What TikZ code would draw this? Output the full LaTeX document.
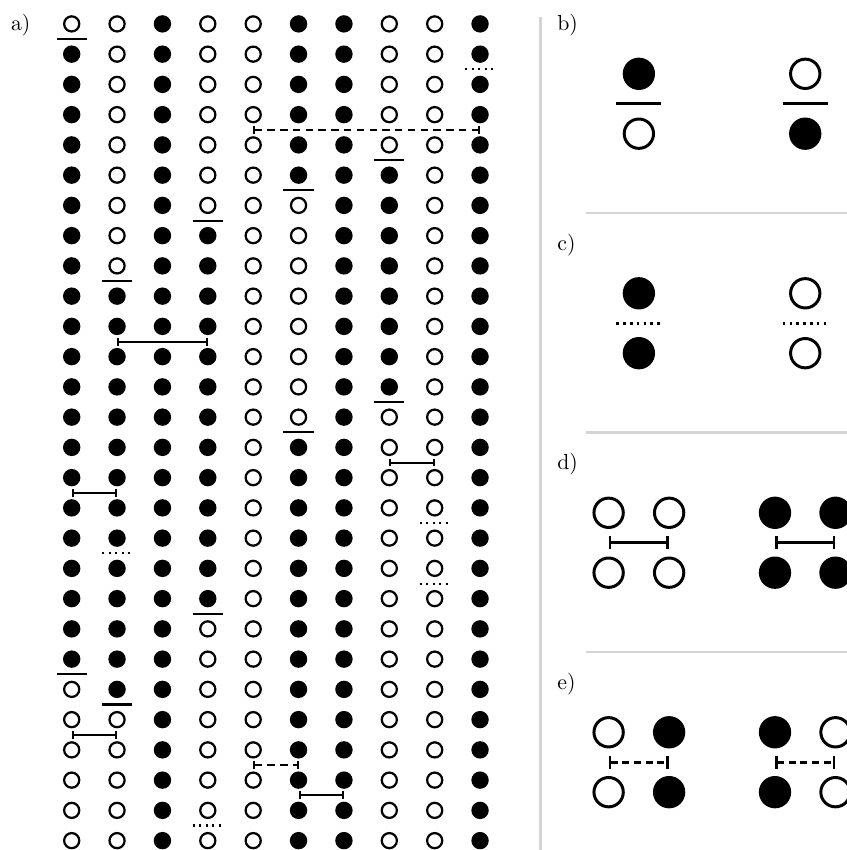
\documentclass[tikz,border=0pt]{standalone}
\usepackage{tikz}
\usetikzlibrary{arrows.meta,calc}
\colorlet{spin0}{white}
\colorlet{spin1}{black}
\colorlet{divgray}{black!17}

\begin{document}
\begin{tikzpicture}[
        every node/.style={inner sep=0pt},
        site/.style={circle, draw=black, line width=2.1pt, minimum size=0.5cm},
        bigsite/.style={circle, draw=black, line width=2.8pt, minimum size=0.97cm},
        flipbar/.style={line width=1.9pt},
        keepbar/.style={line width=1.9pt, dash pattern=on 1.9pt off 4.3pt},
        pairbar/.style={line width=1.9pt, {Bar[width=7.5pt]}-{Bar[width=7.5pt]}},
        mixbar/.style={pairbar, dash pattern=on 7pt off 5pt},
        Lflipbar/.style={line width=2.5pt},
        Lkeepbar/.style={line width=2.5pt, dash pattern=on 2.5pt off 3.9pt},
        Lpairbar/.style={line width=2.6pt, {Bar[width=12pt]}-{Bar[width=12pt]}},
        Lmixbar/.style={Lpairbar, dash pattern=on 6.5pt off 4.5pt},
        divider/.style={draw=divgray, line width=2.4pt},
        sepline/.style={draw=divgray, line width=2pt},
        lbl/.style={font=\fontsize{10}{12}\selectfont, scale=2.05, anchor=base west}
    ]
    \useasboundingbox (-0.87,-28.31) rectangle (27.13,-0.21);

    % ================= (a) spin configurations =========================
    \node[lbl] (lab-a) at (-0.52,-1.23) {a)};
    \foreach \r/\row in {
            1/{0,0,1,0,0,1,1,0,0,1},  2/{1,0,1,0,0,1,1,0,0,1},
            3/{1,0,1,0,0,1,1,0,0,1},  4/{1,0,1,0,0,1,1,0,0,1},
            5/{1,0,1,0,0,1,1,0,0,1},  6/{1,0,1,0,0,1,1,1,0,1},
            7/{1,0,1,0,0,0,1,1,0,1},  8/{1,0,1,1,0,0,1,1,0,1},
            9/{1,0,1,1,0,0,1,1,0,1}, 10/{1,1,1,1,0,0,1,1,0,1},
            11/{1,1,1,1,0,0,1,1,0,1}, 12/{1,1,1,1,0,0,1,1,0,1},
            13/{1,1,1,1,0,0,1,1,0,1}, 14/{1,1,1,1,0,0,1,0,0,1},
            15/{1,1,1,1,0,1,1,0,0,1}, 16/{1,1,1,1,0,1,1,0,0,1},
            17/{1,1,1,1,0,1,1,0,0,1}, 18/{1,1,1,1,0,1,1,0,0,1},
            19/{1,1,1,1,0,1,1,0,0,1}, 20/{1,1,1,1,0,1,1,0,0,1},
            21/{1,1,1,0,0,1,1,0,0,1}, 22/{1,1,1,0,0,1,1,0,0,1},
            23/{0,1,1,0,0,1,1,0,0,1}, 24/{0,0,1,0,0,1,1,0,0,1},
            25/{0,0,1,0,0,1,1,0,0,1}, 26/{0,0,1,0,0,1,1,0,0,1},
            27/{0,0,1,0,0,1,1,0,0,1}, 28/{0,0,1,0,0,1,1,0,0,1}}
    \foreach \v [count=\c] in \row
    \node[site, fill=spin\v] (n-\r-\c) at (1.5*\c,-\r) {};

    % spin flipped between row r and r+1
    \foreach \r/\c in {1/1, 5/8, 6/6, 7/4, 9/2, 13/8, 14/6, 20/4, 22/1, 23/2}{
        \pgfmathtruncatemacro\rr{\r+1}
        \draw[flipbar] ($(n-\r-\c)!0.5!(n-\rr-\c)+(-0.5,0)$)
        -- ($(n-\r-\c)!0.5!(n-\rr-\c)+(0.5,0)$);
    }
    % spin kept
    \foreach \r/\c in {2/10, 17/9, 18/2, 19/9, 27/4}{
        \pgfmathtruncatemacro\rr{\r+1}
        \draw[keepbar] ($(n-\r-\c)!0.5!(n-\rr-\c)+(-0.5,0)$)
        -- ($(n-\r-\c)!0.5!(n-\rr-\c)+(0.5,0)$);
    }
    % equal pairs
    \foreach \r/\a/\b in {11/2/4, 15/8/9, 16/1/2, 24/1/2, 26/6/7}{
        \pgfmathtruncatemacro\rr{\r+1}
        \draw[pairbar] ($(n-\r-\a)!0.5!(n-\rr-\a)$) -- ($(n-\r-\b)!0.5!(n-\rr-\b)$);
    }
    % opposite pairs
    \foreach \r/\a/\b in {4/5/10, 25/5/6}{
        \pgfmathtruncatemacro\rr{\r+1}
        \draw[mixbar] ($(n-\r-\a)!0.5!(n-\rr-\a)$) -- ($(n-\r-\b)!0.5!(n-\rr-\b)$);
    }

    \draw[divider] (17,-0.76) -- (17,-28.5);

    % ================= (b) flip =========================
    \begin{scope}[shift={(17,0)}]
        \node[lbl] (lab-b) at (0.54,-1.23) {b)};
        \node[bigsite, fill=black] (b-1t) at (3.25,-2.65) {};
        \node[bigsite] (b-1b) at (3.25,-4.63) {};
        \node[bigsite] (b-2t) at (8.75,-2.65) {};
        \node[bigsite, fill=black] (b-2b) at (8.75,-4.63) {};
        \foreach \k in {1,2}
        \draw[Lflipbar] ($(b-\k t)!0.5!(b-\k b)+(-0.745,0)$)
        -- ($(b-\k t)!0.5!(b-\k b)+(0.745,0)$);
        \draw[sepline] (1.5,-7.25) -- (10.3,-7.25);
    \end{scope}

    % ================= (c) no flip =========================
    \begin{scope}[shift={(17,-7.256)}]
        \node[lbl] (lab-c) at (0.54,-1.23) {c)};
        \node[bigsite, fill=black] (c-1t) at (3.25,-2.65) {};
        \node[bigsite, fill=black] (c-1b) at (3.25,-4.63) {};
        \node[bigsite] (c-2t) at (8.75,-2.65) {};
        \node[bigsite] (c-2b) at (8.75,-4.63) {};
        \foreach \k in {1,2}
        \draw[Lkeepbar] ($(c-\k t)!0.5!(c-\k b)+(-0.745,0)$)
        -- ($(c-\k t)!0.5!(c-\k b)+(0.745,0)$);
        \draw[sepline] (1.5,-7.25) -- (10.3,-7.25);
    \end{scope}

    % ================= (d) equal pair =========================
    \begin{scope}[shift={(17,-14.512)}]
        \node[lbl] (lab-d) at (0.54,-1.23) {d)};
        \foreach \k/\x/\f in {1/3.25/white, 2/8.75/black}{
            \node[bigsite, fill=\f] (d-\k tl) at (\x-1,-2.65) {};
            \node[bigsite, fill=\f] (d-\k tr) at (\x+1,-2.65) {};
            \node[bigsite, fill=\f] (d-\k bl) at (\x-1,-4.63) {};
            \node[bigsite, fill=\f] (d-\k br) at (\x+1,-4.63) {};
            \draw[Lpairbar] ($(d-\k tl)!0.5!(d-\k bl)$) -- ($(d-\k tr)!0.5!(d-\k br)$);
        }
        \draw[sepline] (1.5,-7.25) -- (10.3,-7.25);
    \end{scope}

    % ================= (e) opposite pair =========================
    \begin{scope}[shift={(17,-21.768)}]
        \node[lbl] (lab-e) at (0.54,-1.23) {e)};
        \foreach \k/\x/\fl/\fr in {1/3.25/white/black, 2/8.75/black/white}{
            \node[bigsite, fill=\fl] (e-\k tl) at (\x-1,-2.65) {};
            \node[bigsite, fill=\fr] (e-\k tr) at (\x+1,-2.65) {};
            \node[bigsite, fill=\fl] (e-\k bl) at (\x-1,-4.63) {};
            \node[bigsite, fill=\fr] (e-\k br) at (\x+1,-4.63) {};
            \draw[Lmixbar] ($(e-\k tl)!0.5!(e-\k bl)$) -- ($(e-\k tr)!0.5!(e-\k br)$);
        }
    \end{scope}
\end{tikzpicture}
\end{document}
